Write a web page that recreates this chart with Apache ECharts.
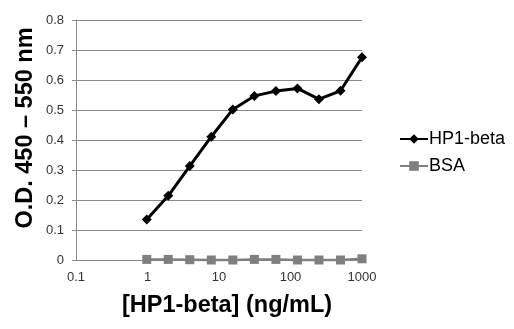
<!DOCTYPE html>
<html><head><meta charset="utf-8">
<script src="https://cdn.jsdelivr.net/npm/echarts@6/dist/echarts.min.js"></script>
<style>html,body{margin:0;padding:0;background:#fff}#c{width:514px;height:329px}</style>
</head><body><div id="c"></div>
<script>
const concentrations = [0.977, 1.95, 3.9, 7.8, 15.6, 31.25, 62.5, 125, 250, 500, 1000];
const hp1Beta = [0.135, 0.214, 0.313, 0.411, 0.502, 0.547, 0.563, 0.572, 0.536, 0.564, 0.676];
const bsa = [0.002, 0.002, 0.001, 0.0, 0.0, 0.002, 0.002, 0.0, 0.0, 0.0, 0.004];
const xTickLabels = {'-1':'0.1','0':'1','1':'10','2':'100','3':'1000'};
const yTitle = 'O.D. 450 \u2013 550 nm';
const xTitle = '[HP1-beta] (ng/mL)';
const FONT = '"Liberation Sans", Arial, sans-serif';

const chart = echarts.init(document.getElementById('c'));
chart.setOption({
  animation: false,
  backgroundColor: '#fff',
  grid: {left: 76, right: 152, top: 20, bottom: 69, containLabel: false},
  xAxis: {
    type: 'log', logBase: 10, min: 0.1, max: 1000,
    axisLine: {show: true, onZero: false, lineStyle: {color: '#8a8a8a', width: 1}},
    axisTick: {show: false},
    splitLine: {show: false},
    minorTick: {show: false},
    axisLabel: {
      fontFamily: FONT, fontSize: 13, color: '#333', margin: 11,
      formatter: v => xTickLabels[String(Math.round(Math.log10(v)))] || ''
    }
  },
  yAxis: {
    type: 'value', min: 0, max: 0.8, interval: 0.1,
    axisLine: {show: true, lineStyle: {color: '#8a8a8a', width: 1}},
    axisTick: {show: true, length: 4, lineStyle: {color: '#8a8a8a'}},
    splitLine: {show: true, lineStyle: {color: '#8a8a8a', width: 1}},
    axisLabel: {
      fontFamily: FONT, fontSize: 13, color: '#333', margin: 12,
      formatter: v => v === 0 ? '0' : v.toFixed(1)
    }
  },
  legend: {
    orient: 'vertical', left: 394, top: 125, itemGap: 9,
    itemWidth: 28, itemHeight: 12,
    textStyle: {fontFamily: FONT, fontSize: 18, color: '#000', padding: [0, 0, 0, -4]},
    data: ['HP1-beta', 'BSA']
  },
  graphic: [
    {type: 'text', x: 227, y: 306, style: {text: xTitle, font: 'bold 23.5px ' + FONT, fill: '#000', align: 'center', verticalAlign: 'middle'}},
    {type: 'text', x: 26, y: 128, rotation: Math.PI / 2, style: {text: yTitle, font: 'bold 23.5px ' + FONT, fill: '#000', align: 'center', verticalAlign: 'middle'}}
  ],
  series: [
    {
      name: 'HP1-beta', type: 'line',
      data: concentrations.map((x, i) => [x, hp1Beta[i]]),
      symbol: 'diamond', symbolSize: 10,
      lineStyle: {color: '#000', width: 3},
      itemStyle: {color: '#000'}
    },
    {
      name: 'BSA', type: 'line',
      data: concentrations.map((x, i) => [x, bsa[i]]),
      symbol: 'rect', symbolSize: 9, clip: false,
      lineStyle: {color: '#7f7f7f', width: 2.5},
      itemStyle: {color: '#7f7f7f'}
    }
  ]
});
</script></body></html>
